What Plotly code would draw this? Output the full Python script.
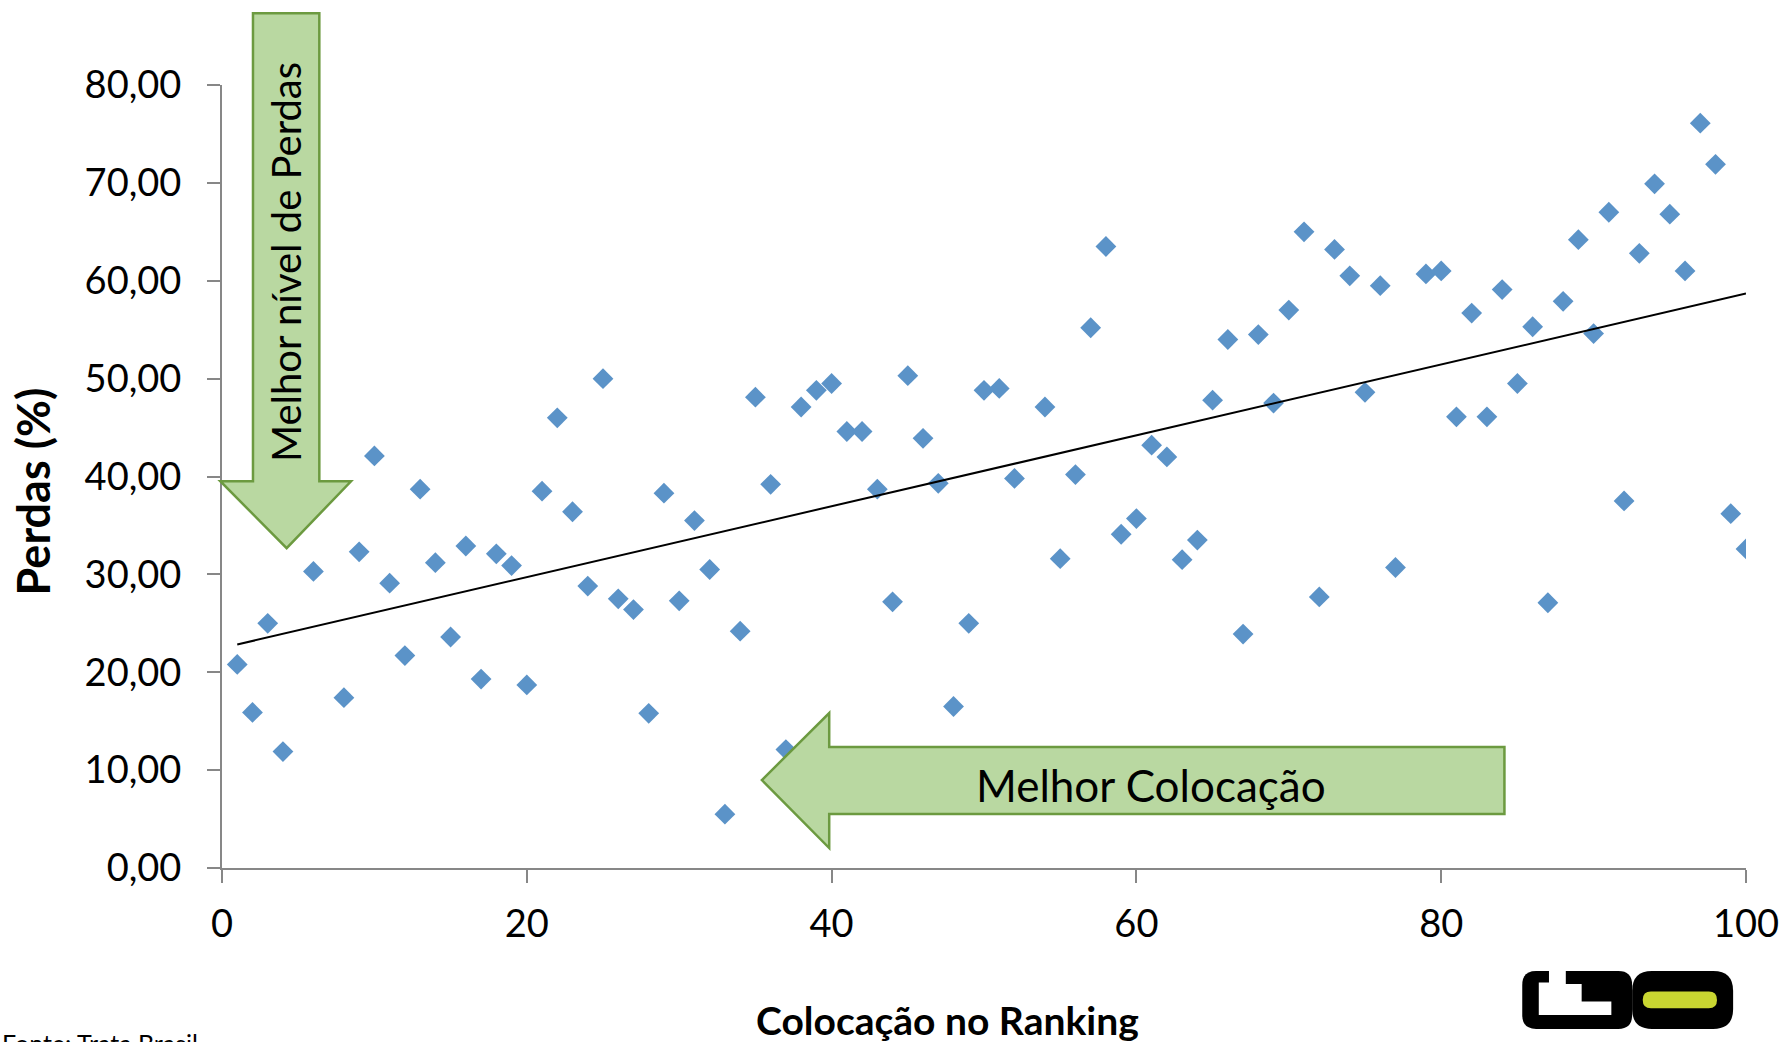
import plotly.graph_objects as go
import numpy as np

# ---------------- data ----------------
ranking = [1, 2, 3, 4, 6, 8, 9, 10, 11, 12, 13, 14, 15, 16, 17, 18, 19, 20,
           21, 22, 23, 24, 25, 26, 27, 28, 29, 30, 31, 32, 33, 34, 35, 36, 37, 38, 39, 40,
           41, 42, 43, 44, 45, 46, 47, 48, 49, 50, 51, 52, 54, 55, 56, 57, 58, 59, 60,
           61, 62, 63, 64, 65, 66, 67, 68, 69, 70, 71, 72, 73, 74, 75, 76, 77, 79, 80,
           81, 82, 83, 84, 85, 86, 87, 88, 89, 90, 91, 92, 93, 94, 95, 96, 97, 98, 99, 100]
perdas = [20.8, 15.9, 25.0, 11.9, 30.3, 17.4, 32.3, 42.1, 29.1, 21.7, 38.7, 31.2, 23.6, 32.9, 19.3, 32.1, 30.9, 18.7,
          38.5, 46.0, 36.4, 28.8, 50.0, 27.5, 26.4, 15.8, 38.3, 27.3, 35.5, 30.5, 5.5, 24.2, 48.1, 39.2, 12.1, 47.1, 48.8, 49.5,
          44.6, 44.6, 38.7, 27.2, 50.3, 43.9, 39.3, 16.5, 25.0, 48.8, 49.0, 39.8, 47.1, 31.6, 40.2, 55.2, 63.5, 34.1, 35.7,
          43.2, 42.0, 31.5, 33.5, 47.8, 54.0, 23.9, 54.5, 47.5, 57.0, 65.0, 27.7, 63.2, 60.5, 48.6, 59.5, 30.7, 60.7, 61.0,
          46.1, 56.7, 46.1, 59.1, 49.5, 55.3, 27.1, 57.9, 64.2, 54.6, 67.0, 37.5, 62.8, 69.9, 66.8, 61.0, 76.1, 71.9, 36.2, 32.6]

x_ticks = [0, 20, 40, 60, 80, 100]
x_ticklabels = ["0", "20", "40", "60", "80", "100"]
y_ticks = [0, 10, 20, 30, 40, 50, 60, 70, 80]
y_ticklabels = ["0,00", "10,00", "20,00", "30,00", "40,00", "50,00", "60,00", "70,00", "80,00"]

x_title = "Colocação no Ranking"
y_title = "Perdas (%)"
arrow_v_text = "Melhor nível de Perdas"
arrow_h_text = "Melhor Colocação"
source_text = "Fonte: Trata Brasil"

# linear trendline (least squares on the data)
slope, intercept = np.polyfit(ranking, perdas, 1)
trend_x = [min(ranking), max(ranking)]
trend_y = [intercept + slope * v for v in trend_x]

# ---------------- layout geometry ----------------
W, H = 1791, 1042
L, R, T, B = 221.7, 30, 84.5, 174
PW = W - L - R
PH = H - T - B


def px(x):
    return (x - L) / PW


def py(y):
    return (H - B - y) / PH


def path(points):
    return "M " + " L ".join(f"{px(a):.5f},{py(b):.5f}" for a, b in points) + " Z"


def rrect(x0, y0, x1, y1, r):
    # rounded rectangle via quadratic corners (pixel coords)
    P = lambda a, b: f"{px(a):.5f},{py(b):.5f}"
    return (f"M {P(x0 + r, y0)} L {P(x1 - r, y0)} Q {P(x1, y0)} {P(x1, y0 + r)} "
            f"L {P(x1, y1 - r)} Q {P(x1, y1)} {P(x1 - r, y1)} "
            f"L {P(x0 + r, y1)} Q {P(x0, y1)} {P(x0, y1 - r)} "
            f"L {P(x0, y0 + r)} Q {P(x0, y0)} {P(x0 + r, y0)} Z")


GREEN_FILL = "#B9D8A1"
GREEN_LINE = "#6C9A40"
BLUE = "#5B93C8"
FONT = "Lato"

fig = go.Figure()
fig.add_trace(go.Scatter(
    x=ranking, y=perdas, mode="markers",
    marker=dict(symbol="diamond", size=16, color=BLUE, line=dict(width=0)),
    showlegend=False, hoverinfo="x+y"))
fig.add_trace(go.Scatter(
    x=trend_x, y=trend_y, mode="lines",
    line=dict(color="black", width=2), showlegend=False, hoverinfo="skip"))

shapes = []
# vertical (down) arrow
down_arrow = [(253, 12.7), (320, 12.7), (320, 481), (352, 481), (287, 548),
              (220, 481), (253, 481)]
shapes.append(dict(type="path", xref="paper", yref="paper", path=path(down_arrow),
                   fillcolor=GREEN_FILL, line=dict(color=GREEN_LINE, width=2.5), layer="above"))
# horizontal (left) arrow
left_arrow = [(767, 780), (835, 713), (835, 747), (1517, 747), (1517, 814),
              (835, 814), (835, 848)]
shapes.append(dict(type="path", xref="paper", yref="paper", path=path(left_arrow),
                   fillcolor=GREEN_FILL, line=dict(color=GREEN_LINE, width=2.5), layer="above"))

# logo
LX = 5
shapes.append(dict(type="path", xref="paper", yref="paper", path=rrect(1530 + LX, 971, 1641 + LX, 1029, 14),
                   fillcolor="black", line=dict(width=0), layer="above"))
g_white = [(1557, 971), (1574, 971), (1574, 984), (1590, 984), (1590, 1001.7), (1620, 1001.7), (1620, 1015),
           (1546.7, 1015), (1546.7, 982.7), (1557, 982.7)]
g_white = [(a + LX, b) for a, b in g_white]
shapes.append(dict(type="path", xref="paper", yref="paper", path=path(g_white),
                   fillcolor="white", line=dict(width=0), layer="above"))
shapes.append(dict(type="path", xref="paper", yref="paper", path=rrect(1641 + LX, 971, 1743 + LX, 1029, 20),
                   fillcolor="black", line=dict(width=0), layer="above"))
shapes.append(dict(type="path", xref="paper", yref="paper",
                   path=rrect(1651.7 + LX, 991.7, 1726.7 + LX, 1008.3, 8.3),
                   fillcolor="#C9D631", line=dict(width=0), layer="above"))

annotations = [
    dict(text=arrow_v_text, x=px(287), y=py(262), xref="paper", yref="paper",
         textangle=-90, showarrow=False, font=dict(family=FONT, size=40, color="black"),
         xanchor="center", yanchor="middle"),
    dict(text=arrow_h_text, x=px(1160), y=py(785), xref="paper", yref="paper",
         showarrow=False, font=dict(family=FONT, size=44, color="black"),
         xanchor="center", yanchor="middle"),
    dict(text="<b>" + x_title + "</b>", x=px(954), y=py(1020), xref="paper", yref="paper",
         showarrow=False, font=dict(family=FONT, size=39, color="black"),
         xanchor="center", yanchor="middle"),
    dict(text="<b>" + y_title + "</b>", x=px(31), y=py(491), xref="paper", yref="paper",
         textangle=-90, showarrow=False, font=dict(family=FONT, size=45, color="black"),
         xanchor="center", yanchor="middle"),
    dict(text=source_text, x=px(-3), y=py(1026), xref="paper", yref="paper",
         showarrow=False, font=dict(family=FONT, size=25, color="black"),
         xanchor="left", yanchor="top"),
]

axis_common = dict(showgrid=False, zeroline=False, showline=True, linecolor="#878787",
                   linewidth=2, ticks="outside", ticklen=13, tickwidth=2, tickcolor="#878787",
                   tickfont=dict(family=FONT, size=38, color="black"),
                   ticklabeloverflow="allow")

fig.update_layout(
    width=W, height=H, autosize=False,
    margin=dict(l=L, r=R, t=T, b=B, pad=0),
    paper_bgcolor="white", plot_bgcolor="white",
    xaxis=dict(range=[0, 100], tickvals=x_ticks, ticktext=x_ticklabels,
               ticklabelstandoff=8, **axis_common),
    yaxis=dict(range=[0, 80], tickvals=y_ticks, ticktext=y_ticklabels,
               ticklabelstandoff=18, **axis_common),
    shapes=shapes, annotations=annotations,
    showlegend=False,
)

fig.write_html("out.html", config={"displayModeBar": False},
               post_script="document.body.style.margin='0';document.body.style.overflow='hidden';")
